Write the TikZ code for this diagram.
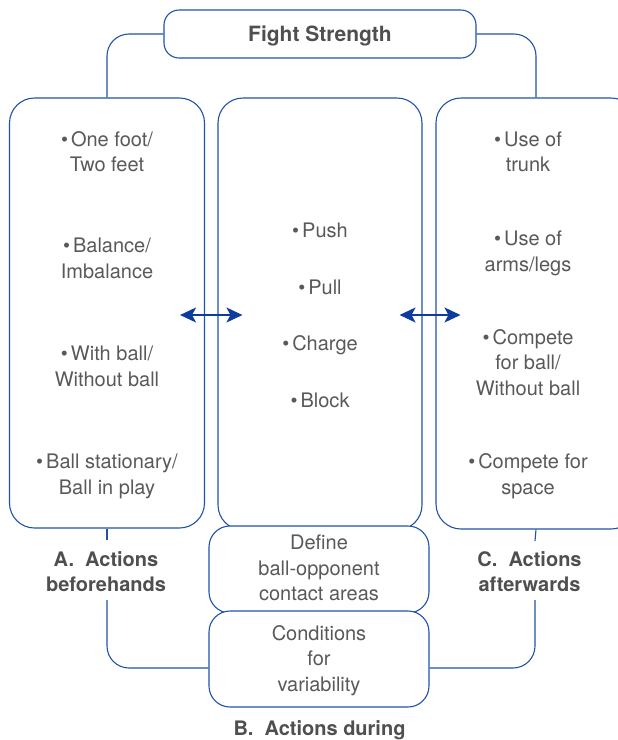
\documentclass[tikz,border=0pt]{standalone}
\usepackage{fontspec}
\setmainfont{TeX Gyre Heros}
\usetikzlibrary{arrows.meta}
\definecolor{boxblue}{HTML}{2152A8}
\definecolor{arrblue}{HTML}{0C3C9C}
\definecolor{txtgray}{HTML}{595959}
\definecolor{labgray}{HTML}{4F4F4F}
\begin{document}
\begin{tikzpicture}[x=1pt,y=-1pt,
  box/.style={draw=boxblue, line width=1.1pt, rounded corners=25pt, fill=white, inner sep=0pt},
  smallbox/.style={box, rounded corners=21pt},
  t/.style={text=txtgray, font=\fontsize{20}{25}\selectfont, inner sep=0pt, anchor=base},
  lab/.style={text=labgray, font=\fontsize{20}{25}\selectfont\bfseries, inner sep=0pt, anchor=base},
  conn/.style={draw=boxblue, line width=1.1pt, rounded corners=22pt},
  arr/.style={draw=arrblue, line width=1.8pt, {Stealth[length=16pt,width=15pt,inset=4pt]}-{Stealth[length=16pt,width=15pt,inset=4pt]}}]
\useasboundingbox (0,0) rectangle (618,740);

% boxes
\node[box, rounded corners=15pt, minimum width=312pt, minimum height=48pt] (fs) at (320,34) {};
\node[box, minimum width=195pt, minimum height=430pt] (A) at (107,313) {};
\node[box, minimum width=204pt, minimum height=432pt] (B) at (320,314) {};
\node[box, minimum width=200pt, minimum height=431pt] (C) at (536,313.5) {};
\node[smallbox, minimum width=220pt, minimum height=87pt] (D) at (319,569.5) {};
\node[smallbox, minimum width=220pt, minimum height=96pt] (E) at (319,659) {};

% gap coordinates around labels
\coordinate (ga1) at (107,540);
\coordinate (ga2) at (107,600);
\coordinate (gc1) at (535,541);
\coordinate (gc2) at (535,600);

% connectors
\draw[conn] (fs.west) -| (A.north);
\draw[conn] (fs.east) -| (C.north);
\draw[conn] (A.south) -- (ga1);
\draw[conn] (C.south) -- (gc1);
\draw[conn] (ga2) |- ([yshift=-9pt]E.west);
\draw[conn] (gc2) |- ([yshift=-9pt]E.east);

% arrows
\draw[arr] ([xshift=-25pt,yshift=-2pt]A.east) -- ([xshift=25pt,yshift=-1pt]B.west);
\draw[arr] ([xshift=-23pt,yshift=-1pt]B.east) -- ([xshift=25pt,yshift=-1.5pt]C.west);

% title
\node[lab, font=\fontsize{21}{25}\selectfont\bfseries] (ft) at (320,41) {Fight Strength};

% left column
\node[t] (a1) at (107,146.5) {•\hspace{3pt}One foot/};
\node[t] (a2) at (107,171.5) {Two feet};
\node[t] (a3) at (107,252.5) {•\hspace{3pt}Balance/};
\node[t] (a4) at (107,278.5) {Imbalance};
\node[t] (a5) at (107,360.5) {•\hspace{3pt}With ball/};
\node[t] (a6) at (107,386.5) {Without ball};
\node[t] (a7) at (107,468.5) {•\hspace{3pt}Ball stationary/};
\node[t] (a8) at (107,494.5) {Ball in play};

% middle column
\node[t] (b1) at (320,237.5) {•\hspace{3pt}Push};
\node[t] (b2) at (320,294.5) {•\hspace{3pt}Pull};
\node[t] (b3) at (320,350.5) {•\hspace{3pt}Charge};
\node[t] (b4) at (320,407.5) {•\hspace{3pt}Block};

% right column
\node[t] (c1) at (528,146.5) {•\hspace{3pt}Use of};
\node[t] (c2) at (528,171.5) {trunk};
\node[t] (c3) at (528,245.5) {•\hspace{3pt}Use of};
\node[t] (c4) at (528,271.5) {arms/legs};
\node[t] (c5) at (528,344.5) {•\hspace{3pt}Compete};
\node[t] (c6) at (528,369.5) {for ball/};
\node[t] (c7) at (528,395.5) {Without ball};
\node[t] (c8) at (528,468.5) {•\hspace{3pt}Compete for};
\node[t] (c9) at (528,494.5) {space};

% define / conditions
\node[t] (d1) at (319,549.5) {Define};
\node[t] (d2) at (319,575.5) {ball-opponent};
\node[t] (d3) at (319,600.5) {contact areas};
\node[t] (e1) at (319,640.5) {Conditions};
\node[t] (e2) at (319,665.5) {for};
\node[t] (e3) at (319,691.5) {variability};

% section labels
\node[lab] (la1) at (106,566) {A.~~Actions};
\node[lab] (la2) at (106,591) {beforehands};
\node[lab] (lc1) at (529.5,566) {C.~~Actions};
\node[lab] (lc2) at (529.5,591) {afterwards};
\node[lab] (lb) at (319.5,735) {B.~~Actions during};
\end{tikzpicture}
\end{document}
